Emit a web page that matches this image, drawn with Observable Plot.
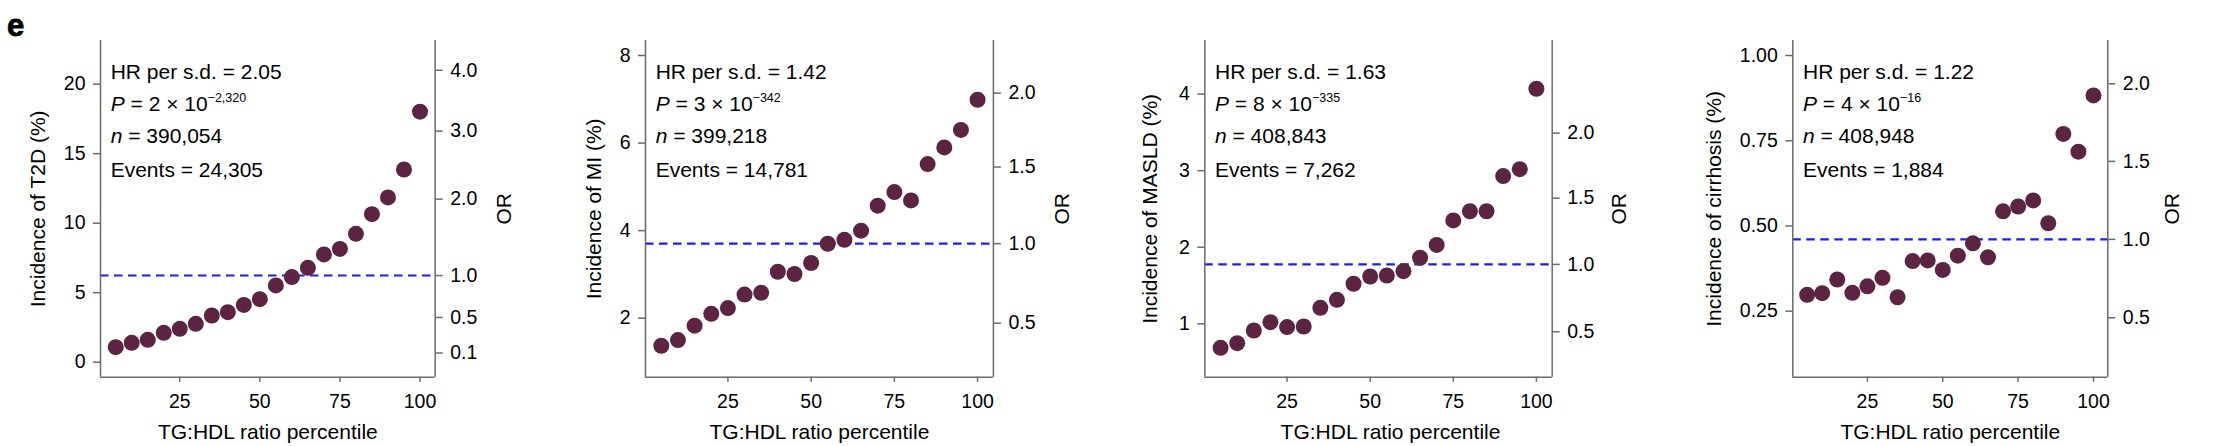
<!DOCTYPE html>
<html>
<head>
<meta charset="utf-8">
<script src="https://cdn.jsdelivr.net/npm/d3@7"></script>
<script src="https://cdn.jsdelivr.net/npm/@observablehq/plot@0.6"></script>
<style>
  html, body { margin: 0; padding: 0; background: #fff; }
  #wrap { position: relative; width: 2214px; height: 446px; overflow: hidden; background: #fff; }
  #wrap svg { position: absolute; top: 0; }
</style>
</head>
<body>
<div id="wrap"></div>
<script>
// ---------- data ----------
const percentiles = [5, 10, 15, 20, 25, 30, 35, 40, 45, 50, 55, 60, 65, 70, 75, 80, 85, 90, 95, 100];

const t2dIncidence = [1.08, 1.39, 1.61, 2.11, 2.40, 2.76, 3.36, 3.60, 4.12, 4.53, 5.52, 6.12, 6.79, 7.75, 8.15, 9.23, 10.65, 11.85, 13.86, 18.02];
const miIncidence = [1.37, 1.50, 1.83, 2.10, 2.23, 2.54, 2.58, 3.06, 3.01, 3.26, 3.70, 3.79, 4.00, 4.57, 4.88, 4.69, 5.52, 5.90, 6.30, 6.99];
const masldIncidence = [0.686, 0.747, 0.913, 1.022, 0.957, 0.965, 1.209, 1.314, 1.523, 1.618, 1.631, 1.688, 1.863, 2.03, 2.35, 2.47, 2.47, 2.93, 3.02, 4.07];
const cirrhosisIncidence = [0.298, 0.303, 0.343, 0.304, 0.323, 0.348, 0.291, 0.397, 0.399, 0.371, 0.413, 0.449, 0.408, 0.543, 0.557, 0.575, 0.508, 0.770, 0.718, 0.883];

const outcomeLabels = ["Incidence of T2D (%)", "Incidence of MI (%)", "Incidence of MASLD (%)", "Incidence of cirrhosis (%)"];
const hrPerSd = ["2.05", "1.42", "1.63", "1.22"];
const pMantissa = ["2", "3", "8", "4"];
const pExponent = ["\u22122,320", "\u2212342", "\u2212335", "\u221216"];
const nValues = [390054, 399218, 408843, 408948];
const eventCounts = [24305, 14781, 7262, 1884];

const xTicks = [25, 50, 75, 100];
const yTicksT2D = [0, 5, 10, 15, 20];
const yTicksMI = [2, 4, 6, 8];
const yTicksMASLD = [1, 2, 3, 4];
const yTicksCirrhosis = [0.25, 0.50, 0.75, 1.00];
const orTicksT2D = [0.1, 0.5, 1.0, 2.0, 3.0, 4.0];
const orTicksMI = [0.5, 1.0, 1.5, 2.0];
const orTicksMASLD = [0.5, 1.0, 1.5, 2.0];
const orTicksCirrhosis = [0.5, 1.0, 1.5, 2.0];

const xLabel = "TG:HDL ratio percentile";
const panelLetter = "e";

// ---------- layout / style ----------
const FONT = "'Liberation Sans', Arial, Helvetica, sans-serif";
const DOT = "#5c2342";
const BLUE = "#1e1ee4";
const AXIS = "#6a6a6a";

const panels = [
  {values: t2dIncidence, yTicks: yTicksT2D, orTicks: orTicksT2D, fmt: d3.format("d"),
   yDomain: [-1.08, 23.14], left: 0, width: 550, ml: 100, mr: 115.3, yLabelDx: -62.7, orDx: 68.6, xLabelDx: 0},
  {values: miIncidence, yTicks: yTicksMI, orTicks: orTicksMI, fmt: d3.format("d"),
   yDomain: [0.652, 8.343], left: 550, width: 553, ml: 95, mr: 110.1, yLabelDx: -51.7, orDx: 68.5, xLabelDx: 0},
  {values: masldIncidence, yTicks: yTicksMASLD, orTicks: orTicksMASLD, fmt: d3.format("d"),
   yDomain: [0.303, 4.70], left: 1103, width: 553, ml: 101.3, mr: 104.3, yLabelDx: -54.3, orDx: 66.6, xLabelDx: 12},
  {values: cirrhosisIncidence, yTicks: yTicksCirrhosis, orTicks: orTicksCirrhosis, fmt: d3.format(".2f"),
   yDomain: [0.0564, 1.044], left: 1656, width: 558, ml: 136.3, mr: 106.7, yLabelDx: -79, orDx: 64.4, xLabelDx: 0}
];

const xDomain = [0.25, 104.75];
const wrap = document.getElementById("wrap");

panels.forEach((p, k) => {
  const data = percentiles.map((x, i) => ({x, y: p.values[i]}));
  // overall incidence (%) = reference level where OR = 1
  const p0 = eventCounts[k] / nValues[k];
  const odds0 = p0 / (1 - p0);
  const orPos = p.orTicks.map(o => 100 * (o * odds0) / (1 + o * odds0));
  const orFmt = d => {
    const i = orPos.findIndex(v => Math.abs(v - d) < 1e-9);
    return i >= 0 ? d3.format(".1f")(p.orTicks[i]) : "";
  };

  const svg = Plot.plot({
    width: p.width,
    height: 446,
    marginLeft: p.ml,
    marginRight: p.mr,
    marginTop: 40,
    marginBottom: 69.3,
    style: {fontFamily: FONT, fontSize: "19.5px", color: "#000", background: "transparent", overflow: "visible"},
    x: {domain: xDomain},
    y: {domain: p.yDomain},
    marks: [
      Plot.ruleY([100 * p0], {stroke: BLUE, strokeWidth: 2.1, strokeDasharray: "8.5,5.5"}),
      Plot.dot(data, {x: "x", y: "y", r: 8, fill: DOT, stroke: "none"}),
      Plot.ruleX([xDomain[0]], {stroke: AXIS, strokeWidth: 1.5}),
      Plot.ruleX([xDomain[1]], {stroke: AXIS, strokeWidth: 1.5}),
      Plot.ruleY([p.yDomain[0]], {stroke: AXIS, strokeWidth: 1.5}),
      Plot.axisX({ticks: xTicks, tickSize: 5, tickPadding: 11.6, label: null, stroke: AXIS, strokeWidth: 1.5, fill: "#000", fontSize: 19.5}),
      Plot.axisY({ticks: p.yTicks, tickFormat: p.fmt, tickSize: 7, tickPadding: 8, label: null, stroke: AXIS, strokeWidth: 1.5, fill: "#000", fontSize: 19.5}),
      Plot.axisY({anchor: "right", ticks: orPos, tickFormat: orFmt, tickSize: 7, tickPadding: 8, label: null, stroke: AXIS, strokeWidth: 1.5, fill: "#000", fontSize: 19.5}),
      Plot.text([xLabel], {text: d => d, frameAnchor: "bottom", dy: 61.6, dx: p.xLabelDx, lineAnchor: "bottom", fontSize: 21, fill: "#000"}),
      Plot.text([outcomeLabels[k]], {text: d => d, frameAnchor: "left", dx: p.yLabelDx, rotate: -90, textAnchor: "middle", lineAnchor: "middle", fontSize: 21, fill: "#000"}),
      Plot.text(["OR"], {text: d => d, frameAnchor: "right", dx: p.orDx, rotate: -90, textAnchor: "middle", lineAnchor: "middle", fontSize: 21, fill: "#000"})
    ]
  });
  svg.style.left = p.left + "px";

  // rich-text annotation block (italic P and n, superscript exponent)
  const s = d3.select(svg);
  const g = s.append("g").attr("font-family", FONT).attr("font-size", 21).attr("fill", "#000").attr("text-anchor", "start");
  const tx = p.ml + 10.7;
  const fmtInt = d3.format(",");
  g.append("text").attr("x", tx).attr("y", 79).text(`HR per s.d. = ${hrPerSd[k]}`);
  const tP = g.append("text").attr("x", tx).attr("y", 110.7);
  tP.append("tspan").attr("font-style", "italic").text("P");
  tP.append("tspan").text(` = ${pMantissa[k]} \u00d7 10`);
  tP.append("tspan").attr("font-size", 12.5).attr("dy", -8.4).text(pExponent[k]);
  const tN = g.append("text").attr("x", tx).attr("y", 143.3);
  tN.append("tspan").attr("font-style", "italic").text("n");
  tN.append("tspan").text(` = ${fmtInt(nValues[k])}`);
  g.append("text").attr("x", tx).attr("y", 176.5).text(`Events = ${fmtInt(eventCounts[k])}`);

  if (k === 0) {
    s.append("text").attr("x", 7).attr("y", 36).attr("font-family", FONT).attr("text-anchor", "start")
      .attr("font-weight", 900).attr("font-size", 31).attr("fill", "#000")
      .attr("stroke", "#000").attr("stroke-width", 0.8).text(panelLetter);
  }
  wrap.appendChild(svg);
});
</script>
</body>
</html>
